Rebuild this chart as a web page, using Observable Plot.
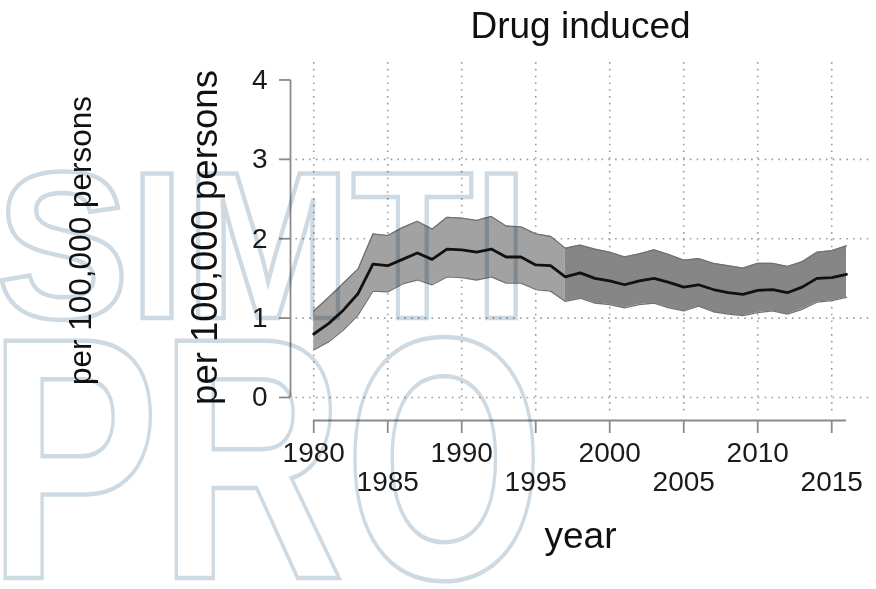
<!DOCTYPE html>
<html>
<head>
<meta charset="utf-8">
<script src="https://cdn.jsdelivr.net/npm/d3@7"></script>
<script src="https://cdn.jsdelivr.net/npm/@observablehq/plot@0.6"></script>
<style>
  html, body { margin: 0; padding: 0; background: #fff; }
  svg { display: block; }
</style>
</head>
<body>
<div id="chart"></div>
<script>
// ---- data ----
const years = [1980, 1981, 1982, 1983, 1984, 1985, 1986, 1987, 1988, 1989,
               1990, 1991, 1992, 1993, 1994, 1995, 1996, 1997, 1998, 1999,
               2000, 2001, 2002, 2003, 2004, 2005, 2006, 2007, 2008, 2009,
               2010, 2011, 2012, 2013, 2014, 2015, 2016];
const rate  = [0.80, 0.93, 1.10, 1.31, 1.68, 1.66, 1.74, 1.82, 1.74, 1.87,
               1.86, 1.83, 1.87, 1.77, 1.77, 1.67, 1.66, 1.52, 1.57, 1.50,
               1.47, 1.42, 1.47, 1.50, 1.45, 1.39, 1.42, 1.36, 1.32, 1.30,
               1.35, 1.36, 1.32, 1.39, 1.50, 1.51, 1.55];
const upper = [1.09, 1.26, 1.44, 1.62, 2.06, 2.04, 2.14, 2.22, 2.12, 2.27,
               2.26, 2.23, 2.28, 2.16, 2.15, 2.06, 2.03, 1.88, 1.92, 1.87,
               1.83, 1.77, 1.81, 1.86, 1.80, 1.73, 1.75, 1.69, 1.66, 1.63,
               1.69, 1.69, 1.65, 1.71, 1.83, 1.85, 1.91];
const lower = [0.60, 0.70, 0.85, 1.04, 1.34, 1.33, 1.43, 1.48, 1.42, 1.52,
               1.51, 1.48, 1.52, 1.44, 1.44, 1.36, 1.34, 1.21, 1.25, 1.19,
               1.17, 1.13, 1.17, 1.19, 1.13, 1.09, 1.15, 1.08, 1.05, 1.03,
               1.07, 1.09, 1.05, 1.11, 1.20, 1.22, 1.26];
const splitYear = 1997;           // band shade changes here
const yTicks = [0, 1, 2, 3, 4];
const yGrid = [0, 1, 2, 3];
const xTicksRow1 = [1980, 1990, 2000, 2010];
const xTicksRow2 = [1985, 1995, 2005, 2015];
const xGrid = [1980, 1985, 1990, 1995, 2000, 2005, 2010, 2015];
const titleText = "Drug induced";
const xLabel = "year";
const yLabel = "per 100,000 persons";
const watermark1 = "SIMTI";
const watermark2 = "PRO";

// ---- build table ----
const data = years.map((year, i) => ({year, rate: rate[i], upper: upper[i], lower: lower[i]}));
const early = data.filter(d => d.year <= splitYear);
const late = data.filter(d => d.year >= splitYear);

const xDomain = [1978.43, 2017.62];
const yDomain = [-0.29, 4.22];
const font = "'Liberation Sans', Arial, Helvetica, sans-serif";
const axisGray = "#8a8a8a";
const dot = {stroke: "#9c9c9c", strokeWidth: 1.6, strokeDasharray: "1.6,5.2"};
const tickFmt = d => String(d);

const chart = Plot.plot({
  width: 876,
  height: 589,
  marginLeft: 290,
  marginRight: 6,
  marginTop: 62,
  marginBottom: 169,
  style: {fontFamily: font, background: "#fff", color: "#1a1a1a", overflow: "visible"},
  x: {domain: xDomain, axis: null, label: null},
  y: {domain: yDomain, axis: null, label: null},
  marks: [
    // dotted grid
    Plot.ruleY(yGrid, {x1: 1978.8, x2: xDomain[1], ...dot}),
    Plot.ruleX(xGrid, {y1: -0.17, y2: yDomain[1], ...dot}),
    // confidence bands
    Plot.areaY(early, {x: "year", y1: "lower", y2: "upper", fill: "#a2a2a2"}),
    Plot.areaY(late, {x: "year", y1: "lower", y2: "upper", fill: "#868686"}),
    Plot.lineY(data, {x: "year", y: "upper", stroke: "#727272", strokeWidth: 1.3}),
    Plot.lineY(data, {x: "year", y: "lower", stroke: "#727272", strokeWidth: 1.3}),
    // estimate
    Plot.lineY(data, {x: "year", y: "rate", stroke: "#111", strokeWidth: 2.8}),
    // axis lines
    Plot.ruleX([xDomain[0]], {y1: 0, y2: 4, stroke: axisGray, strokeWidth: 1.8}),
    Plot.ruleY([yDomain[0]], {x1: 1980, x2: 2016, stroke: axisGray, strokeWidth: 1.8}),
    // axes
    Plot.axisY(yTicks, {anchor: "left", label: null, tickSize: 11, tickPadding: 12, fontSize: 28,
                        stroke: axisGray, strokeWidth: 1.8, fill: "#1a1a1a", tickFormat: tickFmt}),
    Plot.axisX(xTicksRow1, {anchor: "bottom", label: null, tickSize: 13, tickPadding: 9, fontSize: 28,
                            stroke: axisGray, strokeWidth: 1.8, fill: "#1a1a1a", tickFormat: tickFmt}),
    Plot.axisX(xTicksRow2, {anchor: "bottom", label: null, tickSize: 13, tickPadding: 38, fontSize: 28,
                            stroke: axisGray, strokeWidth: 1.8, fill: "#1a1a1a", tickFormat: tickFmt}),
    // titles
    Plot.text([titleText], {frameAnchor: "top", dy: -25, lineAnchor: "bottom", textAnchor: "middle",
                            fontSize: 37, fill: "#111"}),
    Plot.text([xLabel], {frameAnchor: "bottom", dy: 127, lineAnchor: "bottom", textAnchor: "middle",
                         fontSize: 37, fill: "#111"}),
    Plot.text([yLabel], {frameAnchor: "left", rotate: -90, dx: -85, dy: -4, textAnchor: "middle",
                         lineAnchor: "middle", fontSize: 36.5, fill: "#111"}),
    Plot.text([yLabel], {frameAnchor: "left", rotate: -90, dx: -210, dy: -1, textAnchor: "middle",
                         lineAnchor: "middle", fontSize: 31.5, fill: "#111"})
  ]
});

document.getElementById("chart").appendChild(chart);

// watermark overlay (outlined letters, multiplied over the chart)
const wm = d3.select(chart).append("g")
  .attr("fill", "none")
  .attr("stroke", "#cddae3")
  .attr("stroke-width", 4.5)
  .attr("font-family", font)
  .attr("font-weight", "bold")
  .attr("text-anchor", "start")
  .style("mix-blend-mode", "multiply")
  .style("pointer-events", "none");
wm.append("text").attr("x", -4).attr("y", 318).attr("font-size", 210)
  .attr("text-anchor", "start")
  .attr("textLength", 533).attr("lengthAdjust", "spacingAndGlyphs").text(watermark1);
wm.append("text").attr("x", -12).attr("y", 578).attr("font-size", 345)
  .attr("text-anchor", "start")
  .attr("textLength", 556).attr("lengthAdjust", "spacingAndGlyphs").text(watermark2);
</script>
</body>
</html>
